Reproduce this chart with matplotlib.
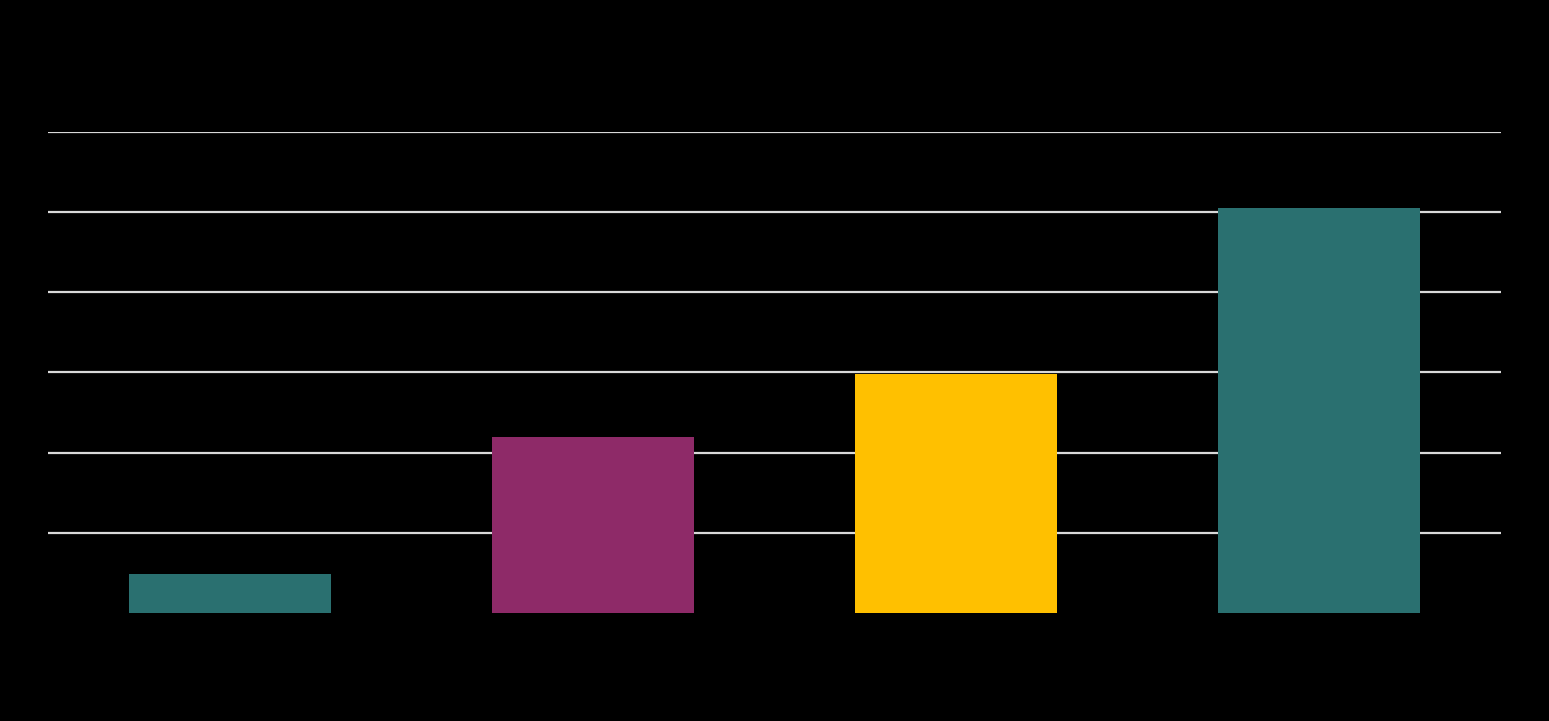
import matplotlib.pyplot as plt
import numpy as np

# values (grid step = 1 unit)
categories = ["A", "B", "C", "D"]
values = [0.49, 2.19, 2.98, 5.05]
bar_colors = ["#2A7070", "#8E2A68", "#FFC000", "#2A7070"]
grid_levels = [1, 2, 3, 4, 5, 6]

fig = plt.figure(figsize=(15.49, 7.21), dpi=100, facecolor="black")
# axes area: x 48..1501 px, y 0 at 613 px, 6 at 132 px
ax = fig.add_axes([48 / 1549, 1 - 613 / 721, 1453 / 1549, 481 / 721])
ax.set_facecolor("black")

x = np.arange(len(categories))
ax.bar(x, values, width=0.556, color=bar_colors, zorder=2)

for g in grid_levels:
    ax.axhline(g, color="#D9D9D9", linewidth=1.6, zorder=1)

ax.set_xlim(-0.5, len(categories) - 0.5)
ax.set_ylim(0, 6)
ax.set_xticks([])
ax.set_yticks([])
for s in ax.spines.values():
    s.set_visible(False)

fig.savefig("out.png", dpi=100, facecolor="black")
